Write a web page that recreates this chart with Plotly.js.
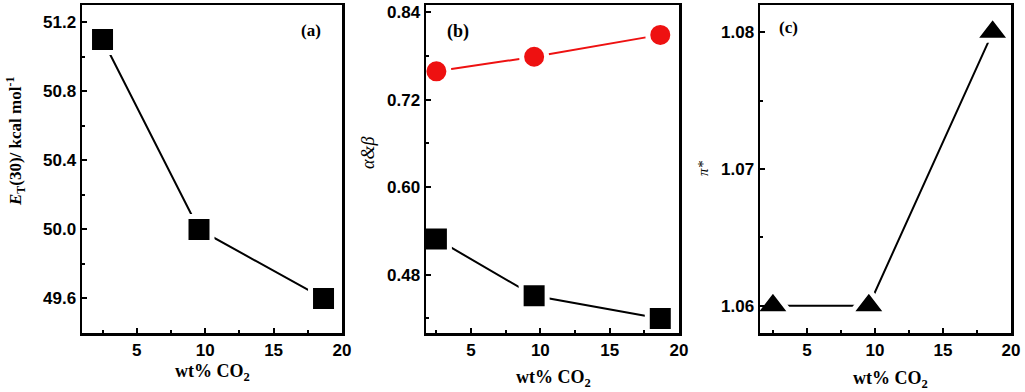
<!DOCTYPE html>
<html>
<head>
<meta charset="utf-8">
<script src="https://cdn.plot.ly/plotly-3.0.1.min.js"></script>
<style>
  html, body { margin: 0; padding: 0; background: #fff; }
  #chart { width: 1025px; height: 392px; }
</style>
</head>
<body>
<div id="chart"></div>
<script>
// wt% CO2 values and the solvent parameters
const co2 = [2.5, 9.55, 18.65];
const etValues = [51.1, 50.0, 49.6];      // (a) E_T(30)
const alphaValues = [0.759, 0.779, 0.809]; // (b) red circles
const betaValues = [0.529, 0.451, 0.420];  // (b) black squares
const piValues = [1.06, 1.06, 1.08];       // (c) pi*

const W = 1025, H = 392;
// pixel boxes of the three panels -> paper domains
function xdom(l, r) { return [l / W, r / W]; }
const ydom = [(H - 333) / H, (H - 5) / H];

const tickFont = { family: 'Liberation Sans, Arial, sans-serif', size: 17, color: '#000', weight: 'bold' };
const serif = 'Liberation Serif, Times New Roman, serif';

function xAxis(dom, lo, anchor) {
    return {
        domain: dom, range: [lo, 20], anchor: anchor,
        showline: true, mirror: true, linewidth: 2.5, linecolor: '#000',
        ticks: 'inside', ticklen: 5, tickwidth: 2, tickcolor: '#000',
        dtick: 5, tick0: 0, showgrid: false, zeroline: false,
        minor: { dtick: 2.5, tick0: 0, ticks: 'inside', ticklen: 3, tickwidth: 2, tickcolor: '#000' },
        tickfont: tickFont
    };
}
function yAxis(range, dtick, minor, fmt, anchor) {
    return {
        domain: ydom, range: range, anchor: anchor,
        showline: true, mirror: true, linewidth: 2.5, linecolor: '#000',
        ticks: 'inside', ticklen: 5, tickwidth: 2, tickcolor: '#000',
        dtick: dtick, tick0: 0, tickformat: fmt, showgrid: false, zeroline: false,
        minor: { dtick: minor, tick0: 0, ticks: 'inside', ticklen: 3, tickwidth: 2, tickcolor: '#000' },
        tickfont: tickFont
    };
}

function series(x, y, color, symbol, size, xa, ya) {
    return {
        x: x, y: y, xaxis: xa, yaxis: ya, type: 'scatter', mode: 'lines+markers',
        line: { color: color, width: 2 },
        marker: { symbol: symbol, size: size, color: color, line: { color: '#fff', width: 5 } },
        cliponaxis: false, showlegend: false
    };
}

const traces = [
    series(co2, etValues, '#000', 'square', 26, 'x', 'y'),
    series(co2, alphaValues, '#ee1111', 'circle', 25, 'x2', 'y2'),
    series(co2, betaValues, '#000', 'square', 26, 'x2', 'y2'),
    series(co2, piValues, '#000', 'triangle-up', 32, 'x3', 'y3')
];

function txt(x, y, text, size, angle) {
    return {
        xref: 'paper', yref: 'paper', x: x / W, y: 1 - y / H,
        xanchor: 'center', yanchor: 'middle', showarrow: false,
        text: text, textangle: angle || 0,
        font: { family: serif, size: size, color: '#000' }
    };
}

const layout = {
    width: W, height: H,
    margin: { l: 0, r: 0, t: 0, b: 0 },
    paper_bgcolor: '#fff', plot_bgcolor: '#fff',
    xaxis: xAxis(xdom(82, 342), 1, 'y'),
    yaxis: yAxis([49.4, 51.3], 0.4, 0.2, '.1f', 'x'),
    xaxis2: xAxis(xdom(426, 679), 1.75, 'y2'),
    yaxis2: yAxis([0.40, 0.85], 0.12, 0.06, '.2f', 'x2'),
    xaxis3: xAxis(xdom(760, 1011), 1.55, 'y3'),
    yaxis3: yAxis([1.058, 1.082], 0.01, 0.005, '.2f', 'x3'),
    annotations: [
        txt(212, 372, '<b>wt% CO<sub>2</sub></b>', 18),
        txt(553, 378, '<b>wt% CO<sub>2</sub></b>', 18),
        txt(890, 379, '<b>wt% CO<sub>2</sub></b>', 18),
        txt(15, 142, '<b><i>E</i><sub>T</sub>(30)/ kcal mol<sup>-1</sup></b>', 17, -90),
        txt(368, 153, '<i>α&amp;β</i>', 18, -90),
        txt(703, 168, '<i>π*</i>', 15, -90),
        txt(311, 30, '<b>(a)</b>', 17),
        txt(458, 32, '<b>(b)</b>', 18),
        txt(788, 28, '<b>(c)</b>', 17)
    ]
};

Plotly.newPlot('chart', traces, layout, { displayModeBar: false, staticPlot: true });
</script>
</body>
</html>
